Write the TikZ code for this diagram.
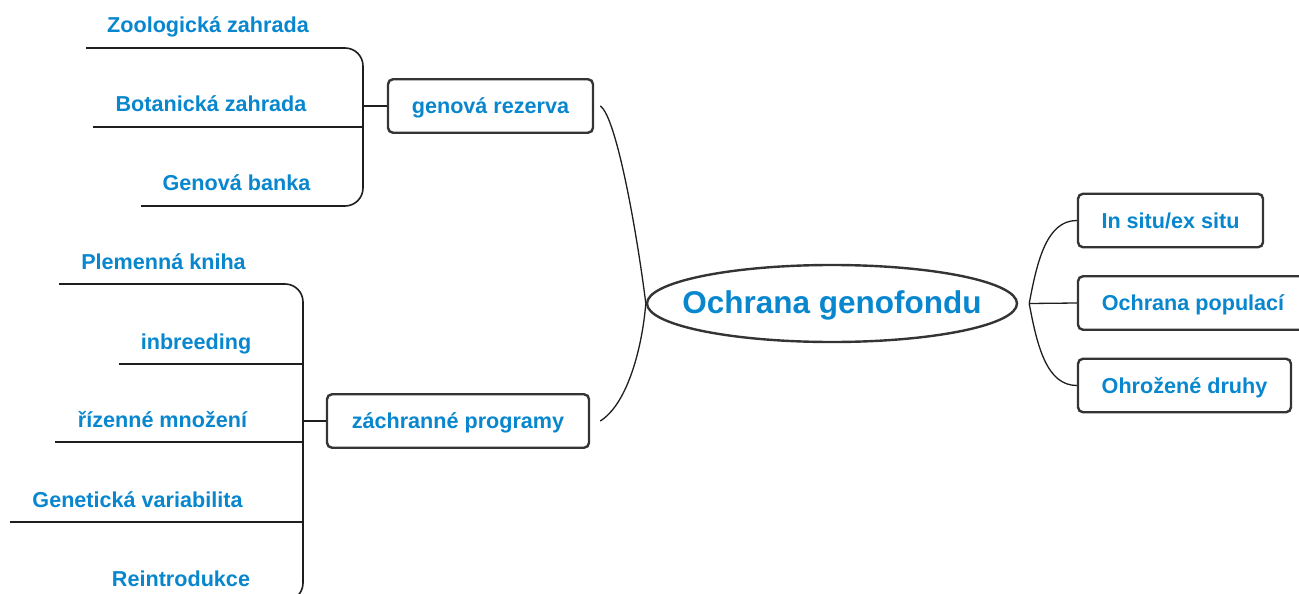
\documentclass[tikz,border=0pt]{standalone}
\usepackage{fontspec}
\setmainfont{Liberation Sans}
\usetikzlibrary{shapes.geometric}
\definecolor{labelblue}{RGB}{8,134,206}
\definecolor{frame}{RGB}{52,52,52}
\definecolor{wire}{RGB}{30,30,30}
\tikzset{
  leaf/.style={anchor=base, inner sep=0pt, text=labelblue,
    font=\fontsize{21.6bp}{26bp}\selectfont\bfseries},
  topic/.style={draw=frame, line width=2.4bp, rounded corners=5bp,
    inner sep=0pt, minimum height=53.5bp, text=labelblue,
    text height=17bp, text depth=1.5bp,
    font=\fontsize{21.6bp}{26bp}\selectfont\bfseries},
  root/.style={ellipse, draw=frame, line width=2.4bp, inner sep=0pt,
    minimum width=370bp, minimum height=77bp},
  rootlabel/.style={anchor=base, inner sep=0pt, text=labelblue,
    font=\fontsize{31.5bp}{38bp}\selectfont\bfseries},
  brace/.style={draw=wire, line width=1.6bp, rounded corners=18bp},
  rule/.style={draw=wire, line width=1.6bp},
  branch/.style={draw=wire, line width=1.3bp},
}
\begin{document}
\begin{tikzpicture}[x=1bp, y=-1bp]
\useasboundingbox (0,0) rectangle (1299,594);
\clip (0,0) rectangle (1299,594);

% central topic
\node[root] (ell) at (832,303.5) {};
\node[rootlabel] (ellT) at (832,313) {Ochrana genofondu};

% main branches
\node[topic, minimum width=205bp] (gr) at (490.5,106) {genová rezerva};
\node[topic, minimum width=262bp] (zp) at (458,421) {záchranné programy};
\node[topic, minimum width=185bp] (r1) at (1170.5,220.5) {In situ/ex situ};
\node[topic, minimum width=230bp] (r2) at (1193,303) {Ochrana populací};
\node[topic, minimum width=213bp] (r3) at (1184.5,385.5) {Ohrožené druhy};

% curved links to the central topic
\coordinate (grE) at ([xshift=6bp]gr.east);
\coordinate (zpE) at ([xshift=10bp]zp.east);
\coordinate (fork) at ([xshift=11bp]ell.east);
\draw[branch] (grE) .. controls +(16,10) and +(-9,-72) .. (ell.west);
\draw[branch] (ell.west) .. controls +(-4,48) and +(26,-16) .. (zpE);
\draw[branch] (fork) .. controls +(8,-43) and +(-30,0) .. (r1.west);
\draw[branch] (fork) -- (r2.west);
\draw[branch] (fork) .. controls +(8,43) and +(-30,0) .. (r3.west);

% leaves of "genová rezerva"
\node[leaf] (z1) at (208,33) {Zoologická zahrada};
\node[leaf] (z2) at (211,112) {Botanická zahrada};
\node[leaf] (z3) at (236.5,191) {Genová banka};
\coordinate (t1) at (86,48);
\coordinate (t2) at (93,127);
\coordinate (t3) at (141,206);
\coordinate (tA) at (363,48);
\coordinate (tB) at (363,206);
\draw[brace] (t1) -- (tA) -- (tB) -- (t3);
\draw[rule] (t2) -- (t2 -| tA);
\draw[rule] (gr.west) -- (gr.west -| tA);

% leaves of "záchranné programy"
\node[leaf] (p1) at (163.5,269) {Plemenná kniha};
\node[leaf] (p2) at (196,349) {inbreeding};
\node[leaf] (p3) at (162.5,427) {řízenné množení};
\node[leaf] (p4) at (137.5,507) {Genetická variabilita};
\node[leaf] (p5) at (181,586) {Reintrodukce};
\coordinate (b1) at (59,284);
\coordinate (b2) at (119,364);
\coordinate (b3) at (55,442);
\coordinate (b4) at (10,522);
\coordinate (b5) at (90,601);
\coordinate (bA) at (303,284);
\coordinate (bB) at (303,601);
\draw[brace] (b1) -- (bA) -- (bB) -- (b5);
\draw[rule] (b2) -- (b2 -| bA);
\draw[rule] (b3) -- (b3 -| bA);
\draw[rule] (b4) -- (b4 -| bA);
\draw[rule] (zp.west) -- (zp.west -| bA);
\end{tikzpicture}
\end{document}
